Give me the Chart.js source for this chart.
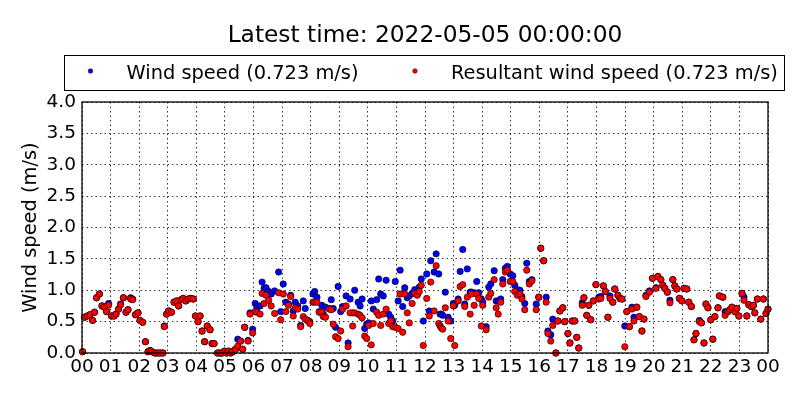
<!DOCTYPE html>
<html>
<head>
<meta charset="utf-8">
<script src="https://cdn.jsdelivr.net/npm/chart.js@4.4.1/dist/chart.umd.min.js"></script>
<style>
html,body{margin:0;padding:0;background:#fff;}
#wrap{width:800px;height:400px;}
</style>
</head>
<body>
<div id="wrap"><canvas id="c" width="800" height="400"></canvas></div>
<script>
const titleText = 'Latest time: 2022-05-05 00:00:00';
const seriesLabels = ['Wind speed (0.723 m/s)', 'Resultant wind speed (0.723 m/s)'];
const yAxisTitle = 'Wind speed (m/s)';
const hourLabels = ['00','01','02','03','04','05','06','07','08','09','10','11','12',
                    '13','14','15','16','17','18','19','20','21','22','23','00'];

// time of each sample in hours since 00:00
const times = [
  0.02,0.09,0.19,0.28,0.37,0.44,0.51,0.61,0.70,0.79,0.86,0.93,
  1.03,1.12,1.19,1.28,1.35,1.45,1.54,1.61,1.70,1.77,1.87,1.96,
  2.03,2.12,2.22,2.31,2.38,2.45,2.55,2.64,2.73,2.83,2.88,2.96,
  3.03,3.13,3.22,3.31,3.38,3.47,3.54,3.63,3.72,3.80,3.89,3.97,
  4.06,4.13,4.20,4.29,4.38,4.48,4.55,4.62,4.74,4.83,4.90,4.99,
  5.06,5.13,5.20,5.27,5.37,5.45,5.55,5.62,5.69,5.81,5.88,5.97,
  6.06,6.12,6.23,6.30,6.37,6.44,6.53,6.62,6.74,6.88,6.95,
  7.04,7.13,7.22,7.30,7.39,7.46,7.55,7.65,7.74,7.81,7.90,7.97,
  8.08,8.14,8.22,8.30,8.39,8.44,8.52,8.65,8.72,8.79,8.87,8.96,
  9.05,9.12,9.24,9.31,9.38,9.47,9.54,9.66,9.73,9.80,9.89,9.96,
  10.03,10.12,10.19,10.31,10.38,10.45,10.54,10.64,10.73,10.80,10.87,10.96,
  11.06,11.13,11.22,11.29,11.38,11.45,11.55,11.64,11.73,11.80,11.87,11.94,
  12.06,12.15,12.20,12.32,12.39,12.48,12.53,12.57,12.62,12.71,12.81,12.90,12.99,
  13.04,13.16,13.23,13.32,13.39,13.48,13.58,13.62,13.72,13.81,13.88,13.97,
  14.02,14.14,14.23,14.30,14.42,14.49,14.56,14.65,14.72,14.81,14.88,14.98,
  15.07,15.14,15.23,15.32,15.39,15.49,15.56,15.65,15.74,15.89,15.98,
  16.05,16.15,16.24,16.30,16.40,16.47,16.58,16.65,16.72,16.82,16.89,
  17.00,17.07,17.15,17.24,17.31,17.38,17.50,17.56,17.66,17.73,17.80,17.89,17.98,
  18.08,18.15,18.24,18.31,18.40,18.47,18.57,18.64,18.75,18.82,18.89,18.99,
  19.06,19.15,19.24,19.31,19.41,19.50,19.59,19.66,19.73,19.85,19.96,
  20.08,20.15,20.25,20.32,20.39,20.48,20.57,20.67,20.74,20.81,20.90,20.99,
  21.06,21.16,21.23,21.32,21.41,21.48,21.60,21.67,21.76,21.83,21.90,
  22.00,22.07,22.14,22.25,22.30,22.42,22.50,22.60,22.67,22.74,22.84,22.91,22.98,
  23.09,23.16,23.26,23.33,23.42,23.49,23.54,23.63,23.75,23.84,23.93,24.00
];

// wind speed (m/s)
const windSpeed = [
  0.02,0.57,0.59,0.61,0.52,0.65,0.88,0.94,0.75,0.73,0.66,0.79,
  0.59,0.59,0.62,0.70,0.78,0.88,0.65,0.69,0.88,0.86,0.61,0.64,
  0.52,0.49,0.18,0.02,0.04,0.02,0.00,0.00,0.00,0.00,0.43,0.62,
  0.67,0.65,0.81,0.83,0.75,0.85,0.87,0.83,0.86,0.87,0.86,0.59,
  0.50,0.59,0.35,0.18,0.43,0.37,0.15,0.15,0.00,0.00,0.00,0.03,
  0.00,0.03,0.00,0.02,0.06,0.22,0.19,0.06,0.41,0.20,0.64,0.38,
  0.79,0.73,0.75,1.13,1.03,1.04,0.98,0.94,0.99,1.29,0.66,
  1.10,0.81,0.78,0.92,0.67,0.81,0.75,0.44,0.83,0.71,0.52,0.50,
  0.94,0.98,0.89,0.66,0.76,0.62,0.73,0.71,0.85,0.71,0.41,1.06,
  0.66,0.74,0.91,0.16,0.86,0.64,1.00,0.81,0.75,0.86,0.39,0.46,
  0.48,0.83,0.70,0.85,1.18,0.94,0.91,1.16,0.62,0.57,0.51,1.14,
  0.83,1.32,0.74,1.04,0.88,0.91,0.95,1.01,0.94,1.05,1.18,0.51,
  1.26,0.67,1.47,1.29,1.58,1.26,0.62,0.62,0.60,0.97,0.57,0.51,0.79,
  0.76,0.86,1.30,1.65,0.78,1.34,0.97,0.97,0.96,1.14,0.96,0.86,
  0.81,0.42,1.05,1.10,1.31,0.83,0.83,0.86,1.17,1.35,1.38,1.26,
  1.23,1.08,1.01,1.00,0.90,0.79,1.43,1.14,1.17,0.78,0.89,
  1.67,1.47,0.89,0.35,0.29,0.54,0.00,0.51,0.67,0.72,0.50,
  0.31,0.16,0.51,0.51,0.25,0.08,0.80,0.88,0.60,0.76,0.53,0.83,1.09,
  0.89,0.90,1.07,0.98,0.57,0.91,0.81,1.02,0.92,0.87,0.86,0.43,
  0.66,0.42,0.73,0.57,0.73,0.58,0.35,0.54,0.92,0.99,1.19,
  1.04,1.22,1.17,1.08,1.03,0.97,0.84,1.17,1.07,1.02,0.87,0.83,
  1.03,1.02,0.81,0.74,0.21,0.31,0.52,0.48,0.16,0.78,0.72,
  0.53,0.22,0.58,0.72,0.91,0.89,0.66,0.66,0.69,0.73,0.66,0.71,0.59,
  0.95,0.89,0.59,0.77,0.74,0.76,0.64,0.86,0.54,0.86,0.63,0.70
];

// resultant wind speed (m/s)
const resultantSpeed = [
  0.02,0.57,0.59,0.61,0.52,0.65,0.88,0.94,0.75,0.73,0.66,0.76,
  0.59,0.59,0.62,0.70,0.77,0.88,0.65,0.69,0.86,0.85,0.61,0.64,
  0.52,0.49,0.18,0.02,0.04,0.02,0.00,0.00,0.00,0.00,0.42,0.62,
  0.67,0.65,0.81,0.83,0.75,0.85,0.87,0.83,0.86,0.87,0.86,0.59,
  0.50,0.59,0.35,0.18,0.43,0.37,0.15,0.15,0.00,0.00,0.00,0.03,
  0.00,0.03,0.00,0.02,0.06,0.11,0.19,0.06,0.41,0.19,0.62,0.32,
  0.66,0.65,0.62,0.95,0.79,0.92,0.84,0.75,0.63,0.96,0.53,
  0.94,0.66,0.76,0.90,0.59,0.72,0.70,0.42,0.58,0.54,0.51,0.47,
  0.81,0.81,0.81,0.65,0.65,0.58,0.57,0.70,0.69,0.46,0.26,0.23,
  0.35,0.70,0.75,0.10,0.64,0.43,0.64,0.62,0.60,0.56,0.27,0.23,
  0.44,0.13,0.47,0.65,0.60,0.44,0.62,0.70,0.47,0.51,0.42,0.41,
  0.39,0.94,0.33,0.94,0.64,0.48,0.79,0.95,0.92,0.98,1.08,0.12,
  0.87,0.59,1.13,0.67,1.39,0.47,0.43,0.40,0.38,0.72,0.51,0.23,0.75,
  0.12,0.83,1.06,1.09,0.74,0.89,0.62,0.94,0.76,0.94,0.87,0.43,
  0.76,0.37,0.89,0.95,1.17,0.72,0.62,0.81,1.10,1.29,1.32,1.14,
  1.14,0.98,0.92,0.94,0.86,0.69,1.32,1.10,1.15,0.69,0.89,
  1.67,1.47,0.81,0.31,0.19,0.44,0.00,0.51,0.67,0.72,0.50,
  0.31,0.16,0.51,0.51,0.25,0.08,0.76,0.88,0.60,0.76,0.53,0.83,1.09,
  0.86,0.87,1.07,0.98,0.57,0.87,0.81,1.02,0.92,0.87,0.86,0.10,
  0.66,0.42,0.70,0.51,0.73,0.58,0.35,0.54,0.90,0.97,1.19,
  1.03,1.22,1.17,1.08,1.03,0.97,0.80,1.17,1.07,1.02,0.87,0.83,
  1.03,1.02,0.81,0.74,0.21,0.31,0.50,0.48,0.16,0.78,0.72,
  0.53,0.22,0.58,0.72,0.91,0.89,0.60,0.66,0.69,0.73,0.66,0.71,0.59,
  0.95,0.84,0.59,0.77,0.74,0.76,0.64,0.86,0.54,0.86,0.63,0.70
];

const seriesColors = ['#0000ff', '#ff0000'];
const FONT = 'DejaVu Sans';

function toPoints(values) {
  return times.map((t, i) => ({ x: t, y: values[i] }));
}

// Title centred over the axes, and a framed legend box (matplotlib style)
const headerPlugin = {
  id: 'header',
  afterDraw(chart) {
    const ctx = chart.ctx;
    const ca = chart.chartArea;
    ctx.save();
    // title
    ctx.fillStyle = '#000';
    ctx.font = '23.3px "' + FONT + '"';
    ctx.textAlign = 'center';
    ctx.textBaseline = 'alphabetic';
    ctx.fillText(titleText, (ca.left + ca.right) / 2, ca.top - 60);

    // legend frame
    const top = ca.top - 47, bottom = ca.top - 12;
    const left = ca.left - 18, right = ca.right + 16;
    ctx.strokeStyle = '#000';
    ctx.lineWidth = 1;
    ctx.strokeRect(Math.round(left) + 0.5, Math.round(top) + 0.5, Math.round(right - left), Math.round(bottom - top));
    ctx.font = '19.4px "' + FONT + '"';
    ctx.textAlign = 'left';
    const dotY = top + 16;
    const textY = bottom - 11.5;
    let x = left + 26.5;
    chart.data.datasets.slice().sort((a, b) => a.legendIndex - b.legendIndex).forEach(ds => {
      ctx.beginPath();
      ctx.arc(x, dotY, 2.3, 0, Math.PI * 2);
      ctx.fillStyle = ds.backgroundColor;
      ctx.fill();
      ctx.lineWidth = 0.5;
      ctx.strokeStyle = '#000';
      ctx.stroke();
      ctx.fillStyle = '#000';
      const tx = x + 36;
      ctx.fillText(ds.label, tx, textY);
      x = tx + ctx.measureText(ds.label).width + 56.5;
    });
    ctx.restore();
  }
};

// Axes frame
const axesFrame = {
  id: 'axesFrame',
  afterDatasetsDraw(chart) {
    const ctx = chart.ctx;
    const ca = chart.chartArea;
    ctx.save();
    ctx.strokeStyle = '#000';
    ctx.lineWidth = 1.3;
    ctx.strokeRect(ca.left, ca.top, ca.right - ca.left, ca.bottom - ca.top);
    ctx.restore();
  }
};

new Chart(document.getElementById('c'), {
  type: 'scatter',
  data: {
    datasets: [
      {
        label: seriesLabels[1],
        legendIndex: 1,
        data: toPoints(resultantSpeed),
        backgroundColor: seriesColors[1],
        borderColor: '#000',
        borderWidth: 0.6,
        pointRadius: 3.2,
        pointHoverRadius: 3.2,
        clip: false,
        order: 0
      },
      {
        label: seriesLabels[0],
        legendIndex: 0,
        data: toPoints(windSpeed),
        backgroundColor: seriesColors[0],
        borderColor: '#000',
        borderWidth: 0.6,
        pointRadius: 3.2,
        pointHoverRadius: 3.2,
        clip: false,
        order: 1
      }
    ]
  },
  options: {
    responsive: false,
    animation: false,
    events: [],
    layout: { padding: { left: 0, right: 32, top: 102, bottom: 0 } },
    plugins: {
      legend: { display: false },
      tooltip: { enabled: false },
      title: { display: false }
    },
    scales: {
      x: {
        type: 'linear',
        min: 0,
        max: 24,
        afterFit(scale) { scale.height = 47; },
        ticks: {
          stepSize: 1,
          autoSkip: false,
          maxRotation: 0,
          padding: 3,
          color: '#000',
          font: { family: FONT, size: 18.5 },
          callback: (value, index) => hourLabels[index]
        },
        grid: { color: '#000', lineWidth: 0.8, drawTicks: false },
        border: { display: false, dash: [1.5, 3] }
      },
      y: {
        type: 'linear',
        min: 0,
        max: 4,
        afterFit(scale) { scale.width = 82; },
        ticks: {
          stepSize: 0.5,
          padding: 6,
          color: '#000',
          font: { family: FONT, size: 18.5 },
          callback: v => Number(v).toFixed(1)
        },
        title: {
          display: true,
          text: yAxisTitle,
          color: '#000',
          font: { family: FONT, size: 19.4 },
          padding: { top: 19, bottom: 0 }
        },
        grid: { color: '#000', lineWidth: 0.8, drawTicks: false },
        border: { display: false, dash: [1.5, 3] }
      }
    }
  },
  plugins: [axesFrame, headerPlugin]
});
</script>
</body>
</html>
